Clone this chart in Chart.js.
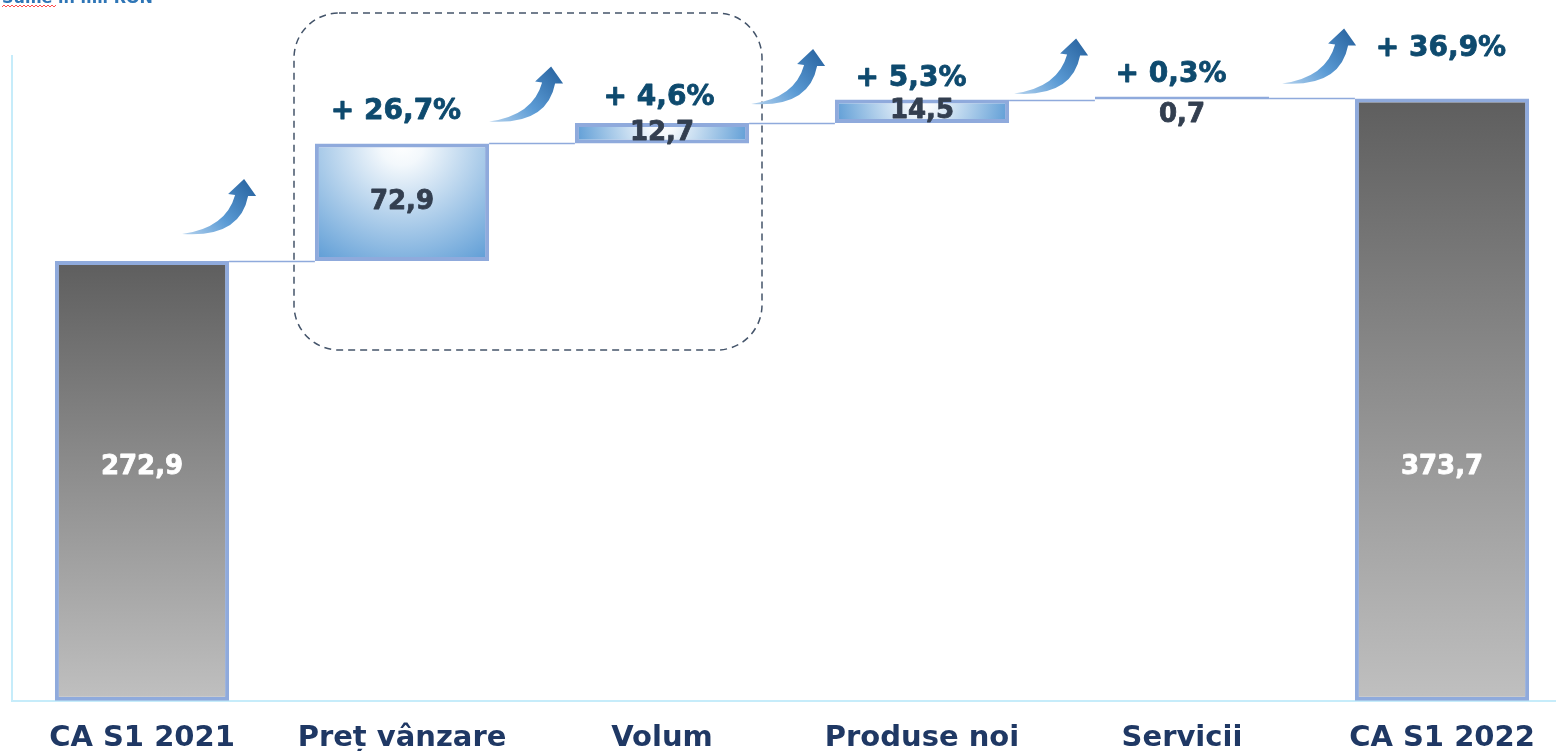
<!DOCTYPE html>
<html lang="ro">
<head>
    <meta charset="UTF-8">
    <meta name="viewport" content="width=device-width, initial-scale=1.0">
    <title>CA S1 2021 - CA S1 2022</title>
    <script src="https://cdn.jsdelivr.net/npm/chart.js"></script>
    <style>
        html, body {
            margin: 0;
            padding: 0;
            background: #ffffff;
            overflow: hidden;
        }
        /* a bit wider and taller than the window: the picture is cut at the right and bottom */
        #chartContainer {
            position: relative;
            width: 1580px;
            height: 776px;
        }
    </style>
</head>
<body>
    <div id="chartContainer">
        <canvas id="bridgeChart"></canvas>
    </div>

    <script>
        // Chart data
        const categories = ['CA S1 2021', 'Preț vânzare', 'Volum', 'Produse noi', 'Servicii', 'CA S1 2022'];
        const values = [272.9, 72.9, 12.7, 14.5, 0.7, 373.7];
        const isTotal = [true, false, false, false, false, true];
        const valueLabels = ['272,9', '72,9', '12,7', '14,5', '0,7', '373,7'];
        const pctLabels = ['', '+ 26,7%', '+ 4,6%', '+ 5,3%', '+ 0,3%', '+ 36,9%'];
        const yMin = 0;
        const yMax = 400;
        const noteText = 'Sume în mil RON';

        // Layout tweaks for the decorations (pixels)
        const BAR_PCT = 0.67;
        const TOTAL_LABEL_AT = 145;              // value level where the white totals text sits
        const PCT_NUDGE = [null, [-6, -32], [-3, -25], [-11, -21], [-11, -24], [-1, -50]];
        const ARROW_NUDGE = [[-47, -27], [0, -22], [2, -19], [5, -6], [13, -15]];
        const FONT = '"DejaVu Sans", Verdana, sans-serif';

        // Build the floating [start, end] ranges of the bridge
        let running = 0;
        const ranges = values.map((v, i) => {
            if (isTotal[i]) {
                running = v;
                return [0, v];
            }
            const r = [running, running + v];
            running += v;
            return r;
        });

        function halfBarWidth(chart) {
            const area = chart.chartArea;
            return (area.right - area.left) / categories.length * BAR_PCT / 2;
        }

        // Gradient fills: grey for totals, blue glow for the steps
        function barFill(context) {
            const chart = context.chart;
            if (!chart.chartArea) return '#888888';
            const i = context.dataIndex;
            const ctx = chart.ctx;
            const cx = chart.scales.x.getPixelForValue(i);
            const top = chart.scales.y.getPixelForValue(ranges[i][1]);
            const bottom = chart.scales.y.getPixelForValue(ranges[i][0]);
            const half = halfBarWidth(chart);
            if (isTotal[i]) {
                const g = ctx.createLinearGradient(0, top, 0, bottom);
                g.addColorStop(0, '#5e5e5e');
                g.addColorStop(1, '#c0c0c0');
                return g;
            }
            const r = Math.hypot(half, bottom - top);
            const g = ctx.createRadialGradient(cx, top, 0, cx, top, r);
            g.addColorStop(0, '#ffffff');
            g.addColorStop(0.15, '#f3f8fc');
            g.addColorStop(1, '#5b9bd5');
            return g;
        }

        function drawArrow(ctx, x0, y0) {
            ctx.save();
            ctx.translate(x0, y0);
            const g = ctx.createLinearGradient(0, 0, 62, -54);
            g.addColorStop(0, '#b6d3ee');
            g.addColorStop(0.5, '#5b9bd5');
            g.addColorStop(1, '#2e6aa6');
            ctx.fillStyle = g;
            ctx.beginPath();
            ctx.moveTo(0, 0);
            ctx.quadraticCurveTo(44, -6, 53, -39);
            ctx.lineTo(46, -40);
            ctx.lineTo(62, -55);
            ctx.lineTo(74, -38);
            ctx.lineTo(66, -38);
            ctx.quadraticCurveTo(58, 4, 0, 0);
            ctx.closePath();
            ctx.fill();
            ctx.restore();
        }

        // bold text with a thin outline so it looks as heavy as the original
        function heavyText(ctx, text, x, y, color) {
            ctx.fillStyle = color;
            ctx.strokeStyle = color;
            ctx.lineWidth = 0.8;
            ctx.lineJoin = 'round';
            ctx.fillText(text, x, y);
            ctx.strokeText(text, x, y);
        }

        // Connectors, dashed frame and note go under the bars
        const underlayPlugin = {
            id: 'underlay',
            beforeDatasetsDraw(chart) {
                const ctx = chart.ctx;
                const x = chart.scales.x;
                const y = chart.scales.y;
                const half = halfBarWidth(chart);
                ctx.save();

                // connector lines between bars
                ctx.strokeStyle = '#8faadc';
                ctx.lineWidth = 1.5;
                for (let i = 0; i < categories.length - 1; i++) {
                    const ly = Math.round(y.getPixelForValue(ranges[i][1])) + 0.5;
                    ctx.beginPath();
                    ctx.moveTo(x.getPixelForValue(i) + half, ly);
                    ctx.lineTo(x.getPixelForValue(i + 1) - half, ly);
                    ctx.stroke();
                }

                // dashed rounded frame round the price and volume steps
                const left = x.getPixelForValue(1) - 108;
                const right = x.getPixelForValue(2) + 100;
                ctx.strokeStyle = '#44546a';
                ctx.lineWidth = 1.5;
                ctx.setLineDash([7, 5]);
                ctx.beginPath();
                ctx.roundRect(left, 13, right - left, 337, 45);
                ctx.stroke();
                ctx.setLineDash([]);

                // cut-off note in the top left corner
                ctx.font = 'bold 16px ' + FONT;
                ctx.fillStyle = '#2e75b6';
                ctx.textBaseline = 'alphabetic';
                ctx.textAlign = 'left';
                ctx.fillText(noteText, 2, 3);
                ctx.strokeStyle = '#ff4d4d';
                ctx.lineWidth = 1;
                ctx.beginPath();
                for (let px = 2; px <= 56; px += 2) {
                    const py = (px / 2) % 2 === 0 ? 5 : 7;
                    if (px === 2) ctx.moveTo(px, py); else ctx.lineTo(px, py);
                }
                ctx.stroke();
                ctx.restore();
            }
        };

        // Value labels, percentage labels and arrows on top
        const overlayPlugin = {
            id: 'overlay',
            afterDatasetsDraw(chart) {
                const ctx = chart.ctx;
                const x = chart.scales.x;
                const y = chart.scales.y;
                const half = halfBarWidth(chart);
                ctx.save();
                ctx.textAlign = 'center';
                ctx.textBaseline = 'middle';

                categories.forEach((cat, i) => {
                    const cx = x.getPixelForValue(i);
                    const top = y.getPixelForValue(ranges[i][1]);
                    const bottom = y.getPixelForValue(ranges[i][0]);

                    // value label
                    ctx.font = 'bold 26px ' + FONT;
                    if (isTotal[i]) {
                        heavyText(ctx, valueLabels[i], cx, y.getPixelForValue(TOTAL_LABEL_AT), '#ffffff');
                    } else {
                        const ly = (bottom - top) < 8 ? top + 17 : (top + bottom) / 2;
                        heavyText(ctx, valueLabels[i], cx, ly, '#333f50');
                    }

                    // percentage label
                    if (pctLabels[i]) {
                        ctx.font = 'bold 28px ' + FONT;
                        heavyText(ctx, pctLabels[i], cx + PCT_NUDGE[i][0], top + PCT_NUDGE[i][1], '#0e4a6e');
                    }

                    // arrow after each bar except the last one
                    if (i < categories.length - 1) {
                        drawArrow(ctx, cx + half + ARROW_NUDGE[i][0], top + ARROW_NUDGE[i][1]);
                    }
                });
                ctx.restore();
            }
        };

        const ctx = document.getElementById('bridgeChart').getContext('2d');
        const bridgeChart = new Chart(ctx, {
            type: 'bar',
            data: {
                labels: categories,
                datasets: [{
                    data: ranges,
                    backgroundColor: barFill,
                    borderColor: '#8faadc',
                    borderWidth: 4,
                    borderSkipped: false,
                    minBarLength: 3,
                    barPercentage: BAR_PCT,
                    categoryPercentage: 1.0
                }]
            },
            options: {
                responsive: true,
                maintainAspectRatio: false,
                animation: false,
                layout: {
                    padding: { top: 56, left: 12, right: 8, bottom: 0 }
                },
                plugins: {
                    legend: { display: false },
                    tooltip: { enabled: false }
                },
                scales: {
                    x: {
                        grid: { display: true, drawOnChartArea: false, drawTicks: false, color: 'rgba(0,0,0,0)' },
                        border: { display: true, color: '#c6ecfa', width: 2 },
                        ticks: {
                            color: '#1f3864',
                            font: { family: FONT, size: 29, weight: 'bold' },
                            padding: 20,
                            maxRotation: 0,
                            autoSkip: false
                        }
                    },
                    y: {
                        min: yMin,
                        max: yMax,
                        grid: { display: true, drawOnChartArea: false, drawTicks: false, color: 'rgba(0,0,0,0)' },
                        border: { display: true, color: '#c6ecfa', width: 2 },
                        ticks: { display: false }
                    }
                }
            },
            plugins: [underlayPlugin, overlayPlugin]
        });
    </script>
</body>
</html>
